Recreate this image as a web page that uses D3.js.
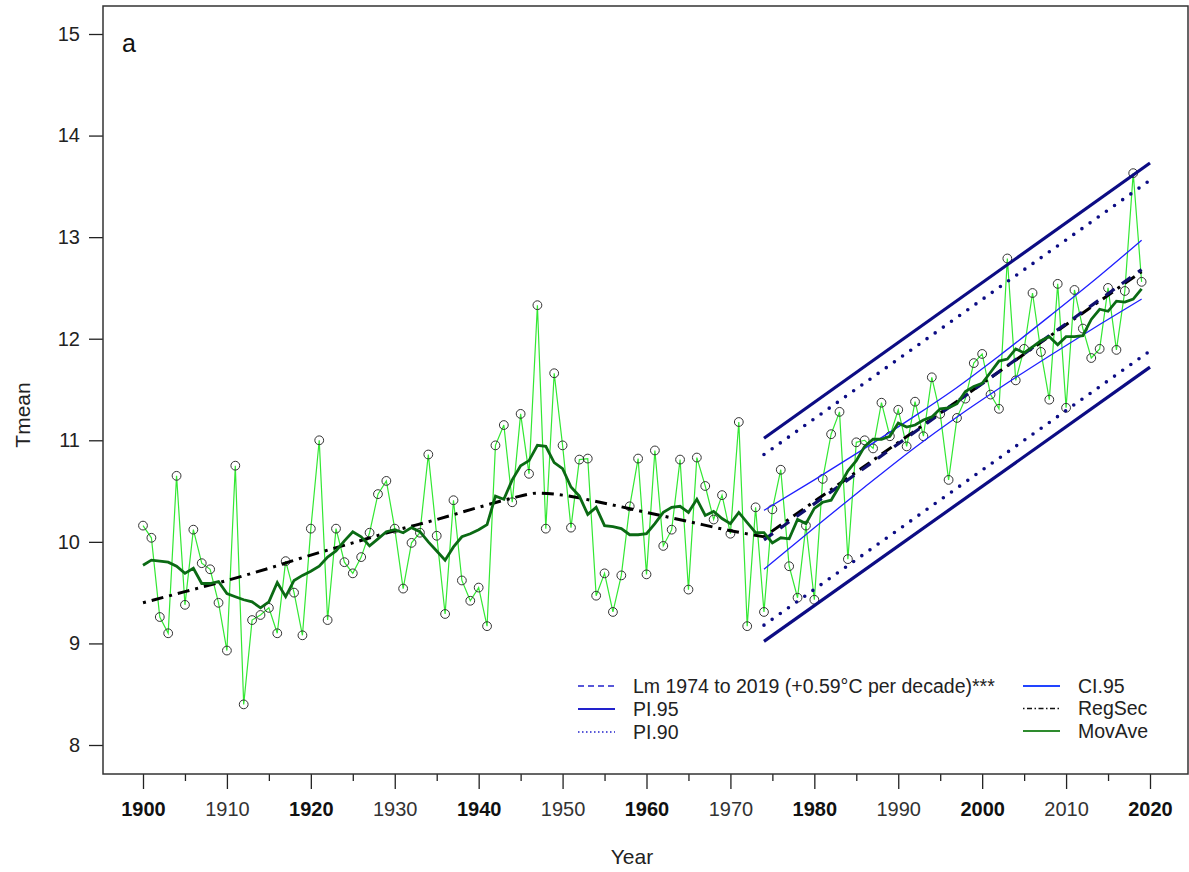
<!DOCTYPE html>
<html>
<head>
<meta charset="utf-8">
<script src="https://cdn.jsdelivr.net/npm/d3@7"></script>
<style>
  html, body { margin: 0; padding: 0; background: #fff; }
  svg { display: block; font-family: "Liberation Sans", Arial, sans-serif; }
</style>
</head>
<body>
<div id="chart"></div>
<script>
// annual mean temperature, 1900-2019
const years = d3.range(1900, 2020);
const tmean = [
  10.16, 10.04, 9.26, 9.10, 10.65, 9.38, 10.12, 9.79, 9.73, 9.40,
  8.93, 10.75, 8.40, 9.23, 9.28, 9.35, 9.10, 9.81, 9.50, 9.08,
  10.13, 11.00, 9.23, 10.13, 9.80, 9.69, 9.85, 10.09, 10.47, 10.60,
  10.13, 9.54, 9.99, 10.09, 10.86, 10.06, 9.29, 10.41, 9.62, 9.42,
  9.55, 9.17, 10.95, 11.15, 10.39, 11.26, 10.67, 12.33, 10.13, 11.66,
  10.95, 10.14, 10.81, 10.82, 9.47, 9.69, 9.31, 9.67, 10.35, 10.82,
  9.68, 10.90, 9.96, 10.12, 10.81, 9.53, 10.83, 10.55, 10.22, 10.46,
  10.08, 11.18, 9.17, 10.34, 9.31, 10.32, 10.71, 9.76, 9.45, 10.16,
  9.43, 10.62, 11.06, 11.28, 9.83, 10.98, 11.00, 10.92, 11.37, 11.04,
  11.30, 10.94, 11.38, 11.04, 11.62, 11.26, 10.61, 11.22, 11.41, 11.76,
  11.85, 11.45, 11.31, 12.79, 11.59, 11.90, 12.45, 11.87, 11.40, 12.54,
  11.32, 12.48, 12.10, 11.81, 11.90, 12.50, 11.89, 12.47, 13.63, 12.56
];

// moving average line, read per year
const movAve = [
  9.77, 9.82, 9.81, 9.80, 9.76, 9.69, 9.74, 9.59, 9.59, 9.61,
  9.49, 9.46, 9.43, 9.41, 9.35, 9.41, 9.60, 9.46, 9.62, 9.67,
  9.71, 9.76, 9.85, 9.91, 10.01, 10.10, 10.05, 9.96, 10.03, 10.10,
  10.12, 10.09, 10.14, 10.10, 10.00, 9.91, 9.82, 9.95, 10.05, 10.08,
  10.12, 10.17, 10.45, 10.42, 10.61, 10.75, 10.80, 10.95, 10.94, 10.78,
  10.72, 10.54, 10.45, 10.27, 10.34, 10.16, 10.15, 10.13, 10.07, 10.07,
  10.08, 10.18, 10.29, 10.34, 10.35, 10.29, 10.42, 10.26, 10.30, 10.23,
  10.18, 10.29, 10.19, 10.09, 10.09, 9.99, 10.04, 10.03, 10.22, 10.18,
  10.33, 10.39, 10.41, 10.55, 10.70, 10.80, 10.94, 11.01, 11.01, 11.04,
  11.17, 11.13, 11.15, 11.20, 11.23, 11.31, 11.32, 11.36, 11.48, 11.53,
  11.56, 11.67, 11.78, 11.80, 11.90, 11.86, 11.92, 11.98, 12.02, 11.94,
  12.02, 12.02, 12.03, 12.19, 12.29, 12.27, 12.37, 12.36, 12.39, 12.49
];

// sectional regression (curved part to 1974, straight part after)
const regSecYears = [1900, 1905, 1910, 1915, 1920, 1925, 1930, 1935, 1940, 1944,
  1947, 1950, 1955, 1960, 1965, 1970, 1974, 2019];
const regSecValues = [9.40, 9.51, 9.62, 9.74, 9.87, 9.99, 10.11, 10.22, 10.34, 10.43,
  10.48, 10.46, 10.38, 10.29, 10.20, 10.11, 10.05, 12.66];
const regSecBreak = 1974;

// linear model 1974-2019
const lmYears = [1974, 2019];
const lmValues = [10.02, 12.68];

const ciYears = [1974, 1980, 1986, 1992, 1997, 2002, 2008, 2014, 2019];
const ciUpper = [10.31, 10.61, 10.92, 11.24, 11.52, 11.83, 12.22, 12.62, 12.97];
const ciLower = [9.73, 10.14, 10.54, 10.93, 11.23, 11.51, 11.83, 12.14, 12.39];

const piYears = [1974, 2020];
const pi95Upper = [11.02, 13.73];
const pi95Lower = [9.02, 11.72];
const pi90Upper = [10.86, 13.56];
const pi90Lower = [9.18, 11.88];

const xMajorTicks = [1900, 1910, 1920, 1930, 1940, 1950, 1960, 1970, 1980, 1990, 2000, 2010, 2020];
const xMinorTicks = [1905, 1915, 1925, 1935, 1945, 1955, 1965, 1975, 1985, 1995, 2005, 2015];
const yTicks = [8, 9, 10, 11, 12, 13, 14, 15];

const legendLeft = ['Lm 1974 to 2019 (+0.59°C per decade)***', 'PI.95', 'PI.90'];
const legendRight = ['CI.95', 'RegSec', 'MovAve'];

class TmeanChart {
  constructor(element, options) {
    const defaults = {
      width: 1189,
      height: 872,
      margin: { top: 6, left: 103, right: 1, bottom: 98 },
    };
    this.element = element;
    Object.assign(this, defaults, options);
    this.init();
  }

  dimensions() {
    const { margin, width, height } = this;
    return [width - margin.left - margin.right, height - margin.top - margin.bottom];
  }

  init() {
    const { element, width, height, margin } = this;
    const [innerWidth, innerHeight] = this.dimensions();

    this.root = d3.select(element).append('svg')
      .attr('width', width)
      .attr('height', height);

    this.svg = this.root.append('g')
      .attr('transform', `translate(${margin.left}, ${margin.top})`);

    this.svg.append('clipPath').attr('id', 'plot-clip')
      .append('rect').attr('width', innerWidth).attr('height', innerHeight);

    this.scaleX = d3.scaleLinear().domain([1900, 2020]).range([40, 1047]);
    this.scaleY = d3.scaleLinear().domain([8, 15]).range([739, 28]);
  }

  path(data, style, curve) {
    const line = d3.line()
      .curve(curve || d3.curveLinear)
      .x(d => this.scaleX(d[0]))
      .y(d => this.scaleY(d[1]));
    const p = this.plot.append('path')
      .datum(data)
      .attr('fill', 'none')
      .attr('d', line);
    Object.entries(style).forEach(([k, v]) => p.attr(k, v));
    return p;
  }

  renderAxis() {
    const { svg, scaleX, scaleY } = this;
    const [innerWidth, innerHeight] = this.dimensions();

    const xAxis = d3.axisBottom(scaleX)
      .tickValues(xMajorTicks)
      .tickSize(15)
      .tickPadding(13)
      .tickFormat(d3.format('d'));

    const xMinor = d3.axisBottom(scaleX)
      .tickValues(xMinorTicks)
      .tickSize(7)
      .tickFormat('');

    const yAxis = d3.axisLeft(scaleY)
      .tickValues(yTicks)
      .tickSize(14)
      .tickPadding(9)
      .tickFormat(d3.format('d'));

    const gx = svg.append('g')
      .attr('transform', `translate(0, ${innerHeight})`)
      .call(xAxis);
    gx.selectAll('text')
      .attr('font-size', 20)
      .attr('font-family', '"Liberation Sans", Arial, sans-serif')
      .attr('font-weight', d => ((d - 1900) % 20 === 0 ? 'bold' : 'normal'))
      .attr('fill', d => ((d - 1900) % 20 === 0 ? '#111' : '#333'));

    svg.append('g')
      .attr('transform', `translate(0, ${innerHeight})`)
      .call(xMinor);

    const gy = svg.append('g').call(yAxis);
    gy.selectAll('text')
      .attr('font-size', 20)
      .attr('fill', '#222')
      .attr('font-family', '"Liberation Sans", Arial, sans-serif');

    svg.selectAll('.domain').remove();
    svg.selectAll('.tick line').attr('stroke', '#222').attr('stroke-width', 1.3);

    svg.append('rect')
      .attr('x', 0).attr('y', 0)
      .attr('width', innerWidth).attr('height', innerHeight)
      .attr('fill', 'none')
      .attr('stroke', '#333')
      .attr('stroke-width', 1.5);

    this.root.append('text')
      .attr('x', 632).attr('y', 864)
      .attr('text-anchor', 'middle')
      .attr('font-size', 21)
      .attr('fill', '#222')
      .text('Year');

    this.root.append('text')
      .attr('transform', 'translate(30, 415) rotate(-90)')
      .attr('text-anchor', 'middle')
      .attr('font-size', 21)
      .attr('fill', '#222')
      .text('Tmean');

    svg.append('text')
      .attr('x', 19).attr('y', 46)
      .attr('font-size', 25)
      .attr('fill', '#111')
      .text('a');
  }

  renderLines() {
    this.plot = this.svg.append('g').attr('clip-path', 'url(#plot-clip)');
    const zip = (xs, ys) => xs.map((x, i) => [x, ys[i]]);

    const obs = zip(years, tmean);
    this.path(obs, { stroke: '#33e833', 'stroke-width': 1.2 });
    this.plot.selectAll('circle.obs')
      .data(obs)
      .join('circle')
      .attr('class', 'obs')
      .attr('cx', d => this.scaleX(d[0]))
      .attr('cy', d => this.scaleY(d[1]))
      .attr('r', 4.4)
      .attr('fill', 'none')
      .attr('stroke', '#333')
      .attr('stroke-width', 1);

    const navy = '#0c0c84';
    this.path(zip(piYears, pi95Upper), { stroke: navy, 'stroke-width': 3.2 });
    this.path(zip(piYears, pi95Lower), { stroke: navy, 'stroke-width': 3.2 });
    this.path(zip(piYears, pi90Upper), { stroke: navy, 'stroke-width': 3.6, 'stroke-linecap': 'round', 'stroke-dasharray': '0,10' });
    this.path(zip(piYears, pi90Lower), { stroke: navy, 'stroke-width': 3.6, 'stroke-linecap': 'round', 'stroke-dasharray': '0,10' });

    const regSec = zip(regSecYears, regSecValues);
    const regStyle = { stroke: '#000', 'stroke-width': 3, 'stroke-dasharray': '3,6,12,6' };
    this.path(regSec.filter(d => d[0] <= regSecBreak), regStyle, d3.curveMonotoneX);
    this.path(regSec.filter(d => d[0] >= regSecBreak), regStyle);

    this.path(zip(lmYears, lmValues), { stroke: '#10106e', 'stroke-width': 3.2, 'stroke-dasharray': '11,9' });

    this.path(zip(ciYears, ciUpper), { stroke: '#1f1fff', 'stroke-width': 1.3 }, d3.curveMonotoneX);
    this.path(zip(ciYears, ciLower), { stroke: '#1f1fff', 'stroke-width': 1.3 }, d3.curveMonotoneX);

    this.path(zip(years, movAve), { stroke: '#0b6a14', 'stroke-width': 2.8 });
  }

  renderLegend() {
    const leftStyles = [
      { stroke: '#2222cc', 'stroke-width': 1.5, 'stroke-dasharray': '6,4' },
      { stroke: '#2222cc', 'stroke-width': 2 },
      { stroke: '#2222cc', 'stroke-width': 1.5, 'stroke-dasharray': '1.5,2.5' },
    ];
    const rightStyles = [
      { stroke: '#2244ff', 'stroke-width': 2 },
      { stroke: '#111', 'stroke-width': 1.5, 'stroke-dasharray': '1.5,2.5,5,2.5' },
      { stroke: '#2e8b2e', 'stroke-width': 2 },
    ];
    const rows = [
      ...legendLeft.map((t, i) => ({ t, s: leftStyles[i], x: 578, tx: 633, y: 686 + i * 23 })),
      ...legendRight.map((t, i) => ({ t, s: rightStyles[i], x: 1023, tx: 1078, y: 686 + i * 22.5 })),
    ];
    const g = this.root.append('g');
    rows.forEach(r => {
      const l = g.append('line')
        .attr('x1', r.x).attr('x2', r.x + 37)
        .attr('y1', r.y).attr('y2', r.y);
      Object.entries(r.s).forEach(([k, v]) => l.attr(k, v));
      g.append('text')
        .attr('x', r.tx)
        .attr('y', r.y)
        .attr('dy', '0.35em')
        .attr('font-size', 19.5)
        .attr('fill', '#222')
        .text(r.t);
    });
  }

  render() {
    this.renderLines();
    this.renderAxis();
    this.renderLegend();
  }
}

new TmeanChart(document.getElementById('chart')).render();
</script>
</body>
</html>
